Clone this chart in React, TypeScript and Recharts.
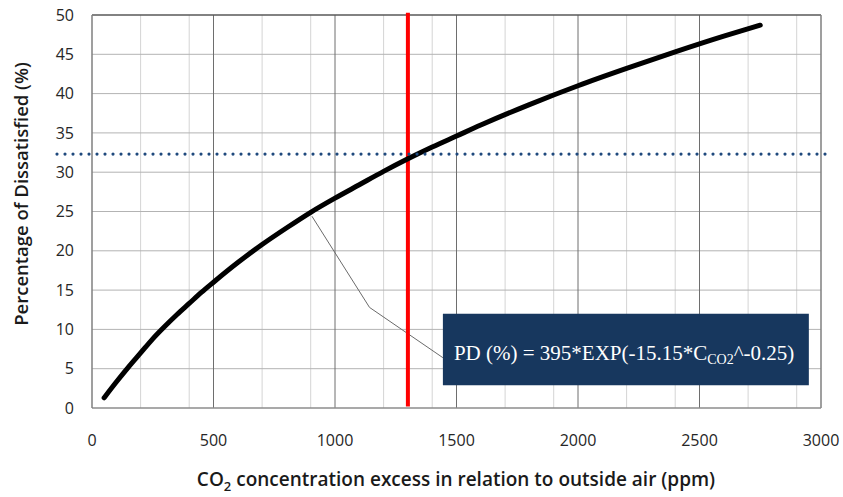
import React from 'react';
import {
  LineChart,
  Line,
  XAxis,
  YAxis,
  CartesianGrid,
  ReferenceLine,
  ReferenceArea,
  Label,
} from 'recharts';

// CO2 excess (ppm) and percentage dissatisfied
const co2Values = [50, 100, 150, 200, 250, 300, 350, 400, 450, 500, 600, 700, 800, 900, 1000, 1100, 1200, 1300, 1400, 1500, 1600, 1800, 2000, 2200, 2400, 2600, 2750];
const pdValues = [1.3, 3.3, 5.2, 7.0, 8.8, 10.4, 11.9, 13.3, 14.7, 16.0, 18.5, 20.8, 22.9, 24.9, 26.7, 28.4, 30.1, 31.7, 33.2, 34.6, 36.0, 38.6, 41.0, 43.2, 45.3, 47.3, 48.7];

const xTicks = [0, 500, 1000, 1500, 2000, 2500, 3000];
const yTicks = [0, 5, 10, 15, 20, 25, 30, 35, 40, 45, 50];
const minorX = [100, 200, 300, 400, 600, 700, 800, 900, 1100, 1200, 1300, 1400, 1600, 1700, 1800, 1900, 2100, 2200, 2300, 2400, 2600, 2700, 2800, 2900];
const majorX = [500, 1000, 1500, 2000, 2500];
const gridY = [5, 10, 15, 20, 25, 30, 35, 40, 45];

// annotations
const limitCo2 = 1300;
const limitPd = 32.3;
const leaderPoints = [
  { x: 905, y: 24.4 },
  { x: 1142, y: 12.8 },
  { x: 1444, y: 6.4 },
];
const boxX = [1444, 2950];
const boxY = [2.9, 12.0];

const data = co2Values.map((c, i) => ({ co2: c, pd: pdValues[i] }));

const tickStyle = { fontFamily: 'Open Sans', fontSize: 16, fill: '#262626' };
const labelFont = 'Open Sans';

const XTitle = (props: any) => {
  return (
    <text x={456} y={486} textAnchor="middle" fontFamily={labelFont} fontWeight={600} fontSize={19} fill="#1a1a1a">
      CO<tspan fontSize={13} dy={5}>2</tspan>
      <tspan dy={-5}> concentration excess in relation to outside air (ppm)</tspan>
    </text>
  );
};

const YTitle = (props: any) => {
  const cy = 194;
  const cx = 28;
  return (
    <text x={cx} y={cy} transform={`rotate(-90 ${cx} ${cy})`} textAnchor="middle" fontFamily={labelFont} fontWeight={600} fontSize={18.5} fill="#1a1a1a">
      Percentage of Dissatisfied (%)
    </text>
  );
};

const FormulaText = (props: any) => {
  const { viewBox } = props;
  return (
    <text x={viewBox.x + 11} y={viewBox.y + 46} fontFamily="Liberation Serif" fontSize={21} fill="#ffffff">
      PD (%) = 395*EXP(-15.15*C
      <tspan fontSize={14} dy={4}>CO2</tspan>
      <tspan dy={-4}>^-0.25)</tspan>
    </text>
  );
};

export default function App() {
  return (
    <div style={{ position: 'absolute', left: 0, top: 0, background: '#fff' }}>
      <LineChart width={843} height={497} data={data} margin={{ top: 15, right: 22, left: 0, bottom: 0 }}>
        <CartesianGrid horizontal={false} verticalValues={minorX} stroke="#d4d4d4" strokeWidth={1} />
        <CartesianGrid vertical={false} horizontalValues={gridY} stroke="#b3b3b3" strokeWidth={1} />
        <CartesianGrid horizontal={false} verticalValues={majorX} stroke="#6e6e6e" strokeWidth={1} />
        <XAxis
          dataKey="co2"
          type="number"
          domain={[0, 3000]}
          ticks={xTicks}
          tickLine={false}
          tickSize={0}
          tickMargin={27}
          height={89}
          axisLine={{ stroke: '#8c8c8c', strokeWidth: 1.5 }}
          tick={tickStyle}
          allowDataOverflow
        >
          <Label content={<XTitle />} />
        </XAxis>
        <YAxis
          type="number"
          domain={[0, 50]}
          ticks={yTicks}
          tickLine={false}
          tickSize={0}
          tickMargin={18}
          width={92}
          axisLine={{ stroke: '#7f7f7f', strokeWidth: 1.5 }}
          tick={tickStyle}
          allowDataOverflow
        >
          <Label content={<YTitle />} />
        </YAxis>

        <ReferenceLine y={50} stroke="#595959" strokeWidth={1.5} />
        <ReferenceLine x={3000} stroke="#7f7f7f" strokeWidth={1.5} />

        <ReferenceLine
          segment={[leaderPoints[0], leaderPoints[1]]}
          stroke="#6b6b6b"
          strokeWidth={1}
        />
        <ReferenceLine
          segment={[leaderPoints[1], leaderPoints[2]]}
          stroke="#6b6b6b"
          strokeWidth={1}
        />

        <ReferenceLine
          segment={[{ x: limitCo2, y: 50.3 }, { x: limitCo2, y: 0.2 }]}
          ifOverflow="visible"
          stroke="#ff0000"
          strokeWidth={4}
        />

        <Line
          dataKey="pd"
          type="monotone"
          stroke="#000000"
          strokeWidth={5}
          strokeLinecap="round"
          dot={false}
          isAnimationActive={false}
        />

        <ReferenceLine
          segment={[{ x: -144, y: limitPd }, { x: 3029, y: limitPd }]}
          ifOverflow="visible"
          stroke="#1f497d"
          strokeWidth={3.2}
          strokeLinecap="round"
          strokeDasharray="0 8"
        />

        <ReferenceArea
          x1={boxX[0]}
          x2={boxX[1]}
          y1={boxY[0]}
          y2={boxY[1]}
          fill="#17375e"
          fillOpacity={1}
          stroke="none"
          ifOverflow="visible"
          zIndex={600}
          label={<FormulaText />}
        />
      </LineChart>
    </div>
  );
}
